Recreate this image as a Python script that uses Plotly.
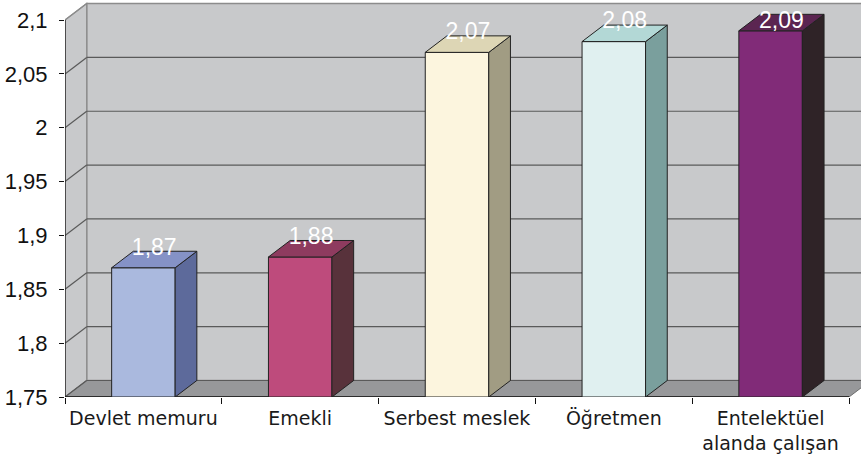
import plotly.graph_objects as go

# ---------------- data ----------------
categories = ["Devlet memuru", "Emekli", "Serbest meslek", "Öğretmen",
              "Entelektüel<br>alanda çalışan"]
values = [1.87, 1.88, 2.07, 2.08, 2.09]
value_labels = ["1,87", "1,88", "2,07", "2,08", "2,09"]
y_ticks = [1.75, 1.8, 1.85, 1.9, 1.95, 2.0, 2.05, 2.1]
y_tick_labels = ["1,75", "1,8", "1,85", "1,9", "1,95", "2", "2,05", "2,1"]

front_colors = ["#AAB9DE", "#BE4B7C", "#FCF5DE", "#E0F0F0", "#812B78"]
side_colors = ["#5D6A9B", "#58323B", "#A19C83", "#7A9F9D", "#2F2327"]
top_colors = ["#8592C6", "#8E3B5F", "#DDD6B5", "#B3D8D6", "#5B2551"]

# ---------------- geometry / style ----------------
W, H = 861, 456
ML, MB = 65, 59
PX_PER_CAT = 156.8
PX_PER_UNIT = 1077.0
X0 = -0.5
X1 = len(categories) - 0.5
Y0, YTOP = y_ticks[0], y_ticks[-1]
xmax = X0 + (W - ML) / PX_PER_CAT
ymax = Y0 + (H - MB) / PX_PER_UNIT
DX = 21.7 / PX_PER_CAT
DY = 16.5 / PX_PER_UNIT
BAR_W = 0.405
LABEL_OFF = 19.0 / PX_PER_UNIT
LABEL_MAX = Y0 + (397 - 22.5) / PX_PER_UNIT

WALL = "#C8C9CB"
FLOOR = "#97989A"
GRID = "#5A5A5A"
EDGE = "#222222"
NUMFONT = "Liberation Sans, Arial, sans-serif"

xs = list(range(len(categories)))

fig = go.Figure()
shapes = []

# back wall
shapes.append(dict(type="rect", xref="x", yref="y", layer="below",
                   x0=X0 + DX, x1=xmax + 1, y0=Y0 + DY, y1=YTOP + DY,
                   fillcolor=WALL, line=dict(color="#8C8C8C", width=1.5)))
# left wall
shapes.append(dict(type="path", xref="x", yref="y", layer="below",
                   path=f"M{X0},{Y0} L{X0},{YTOP} L{X0+DX},{YTOP+DY} L{X0+DX},{Y0+DY} Z",
                   fillcolor=WALL, line=dict(color="#8C8C8C", width=1.2)))
# floor
shapes.append(dict(type="path", xref="x", yref="y", layer="below",
                   path=f"M{X0},{Y0} L{X1},{Y0} L{X1+DX},{Y0+DY} L{X0+DX},{Y0+DY} Z",
                   fillcolor=FLOOR, line=dict(color="#6E6E6E", width=1)))
# gridlines
for v in y_ticks:
    if v < YTOP:
        shapes.append(dict(type="line", xref="x", yref="y", layer="below",
                           x0=X0 + DX, x1=xmax + 1, y0=v + DY, y1=v + DY,
                           line=dict(color=GRID, width=1.2)))
    shapes.append(dict(type="line", xref="x", yref="y", layer="below",
                       x0=X0, x1=X0 + DX, y0=v, y1=v + DY,
                       line=dict(color=GRID if v < YTOP else "#8C8C8C", width=1.2)))
# front axis lines
shapes.append(dict(type="line", xref="x", yref="y", layer="below",
                   x0=X0, x1=X0, y0=Y0, y1=YTOP, line=dict(color="#111111", width=1.2)))
shapes.append(dict(type="line", xref="x", yref="y", layer="below",
                   x0=X0, x1=X1, y0=Y0, y1=Y0, line=dict(color="#111111", width=1.5)))

# ---------------- bars ----------------
fig.add_trace(go.Bar(x=xs, y=[v - Y0 for v in values], base=Y0, width=BAR_W,
                     marker=dict(color=front_colors, line=dict(color=EDGE, width=1)),
                     hoverinfo="skip", showlegend=False))
for i, v in enumerate(values):
    xr = xs[i] + BAR_W / 2
    xl = xs[i] - BAR_W / 2
    fig.add_trace(go.Scatter(x=[xr, xr + DX, xr + DX, xr, xr],
                             y=[Y0, Y0 + DY, v + DY, v, Y0],
                             mode="lines", fill="toself", fillcolor=side_colors[i],
                             line=dict(color=EDGE, width=1),
                             hoverinfo="skip", showlegend=False))
    fig.add_trace(go.Scatter(x=[xl, xr, xr + DX, xl + DX, xl],
                             y=[v, v, v + DY, v + DY, v],
                             mode="lines", fill="toself", fillcolor=top_colors[i],
                             line=dict(color=EDGE, width=1),
                             hoverinfo="skip", showlegend=False))

# data labels
fig.add_trace(go.Scatter(x=[x + DX / 2 for x in xs],
                         y=[min(v + LABEL_OFF, LABEL_MAX) for v in values],
                         mode="text", text=value_labels, textposition="middle center",
                         textfont=dict(family=NUMFONT, size=23, color="white"),
                         hoverinfo="skip", showlegend=False, cliponaxis=False))

fig.update_layout(
    width=W, height=H,
    margin=dict(l=ML, r=0, t=0, b=MB, pad=0),
    paper_bgcolor="white", plot_bgcolor="white",
    shapes=shapes, showlegend=False,
    xaxis=dict(range=[X0, xmax], tickmode="array", tickvals=xs, ticktext=categories,
               ticks="", showgrid=False, zeroline=False, showline=False,
               automargin=False,
               tickfont=dict(family="DejaVu Sans", size=19, color="#1a1a1a"),
               ticklabelstandoff=8,
               minor=dict(tickmode="array", tickvals=[x - 0.5 for x in xs] + [X1],
                          ticks="outside", ticklen=6, tickcolor="#111111",
                          tickwidth=1.2, showgrid=False)),
    yaxis=dict(range=[Y0, ymax], tickmode="array", tickvals=y_ticks,
               ticktext=y_tick_labels, ticks="outside", ticklen=5,
               tickcolor="#111111", tickwidth=1.2, showgrid=False, zeroline=False,
               showline=False, ticklabelstandoff=7, automargin=False,
               tickfont=dict(family=NUMFONT, size=22, color="#111111")),
)

fig.write_html("out.html", config={"displayModeBar": False},
               post_script="document.body.style.margin='0';document.body.style.overflow='hidden';")
